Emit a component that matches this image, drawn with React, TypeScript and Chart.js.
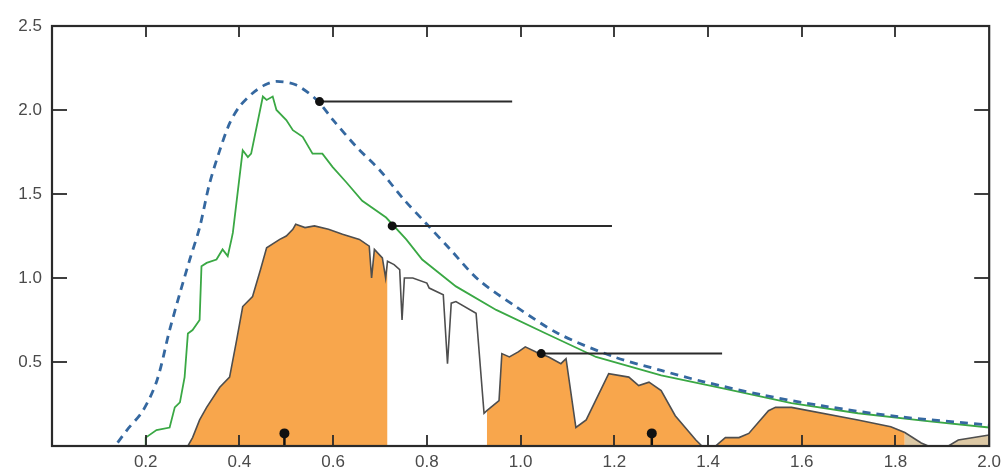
import React, { useEffect, useRef } from "react";
import { Chart, registerables } from "chart.js";

Chart.register(...registerables);

type Pt = [number, number];

// Blackbody reference curve (dashed)
const blackbody: Pt[] = [
  [0.14, 0.02], [0.16, 0.095], [0.194, 0.21], [0.224, 0.39], [0.251, 0.69],
  [0.273, 0.91], [0.294, 1.11], [0.315, 1.3], [0.336, 1.56], [0.358, 1.76],
  [0.379, 1.92], [0.4, 2.02], [0.428, 2.1], [0.455, 2.15], [0.479, 2.17],
  [0.52, 2.15], [0.565, 2.06], [0.6, 1.94], [0.65, 1.78], [0.7, 1.64],
  [0.75, 1.47], [0.8, 1.32], [0.85, 1.17], [0.91, 0.99], [0.99, 0.83],
  [1.08, 0.67], [1.2, 0.53], [1.3, 0.45], [1.387, 0.385], [1.514, 0.305],
  [1.642, 0.24], [1.806, 0.175], [2.0, 0.125],
];

// Irradiance at the top of the atmosphere (green)
const topOfAtmosphere: Pt[] = [
  [0.2, 0.0], [0.2, 0.05], [0.223, 0.095], [0.251, 0.11], [0.262, 0.23],
  [0.273, 0.26], [0.283, 0.41], [0.29, 0.67], [0.3, 0.69], [0.315, 0.75],
  [0.319, 1.07], [0.33, 1.09], [0.351, 1.11], [0.364, 1.17], [0.375, 1.13],
  [0.383, 1.23], [0.386, 1.27], [0.407, 1.76], [0.418, 1.72], [0.425, 1.74],
  [0.45, 2.08], [0.458, 2.06], [0.471, 2.08], [0.479, 2.0], [0.5, 1.94],
  [0.514, 1.88], [0.535, 1.84], [0.556, 1.74], [0.577, 1.74], [0.599, 1.66],
  [0.628, 1.57], [0.662, 1.46], [0.713, 1.36], [0.756, 1.23], [0.79, 1.11],
  [0.862, 0.95], [0.948, 0.81], [1.054, 0.67], [1.161, 0.53], [1.3, 0.42],
  [1.437, 0.34], [1.578, 0.255], [1.72, 0.195], [1.863, 0.15], [2.0, 0.11],
];

// Irradiance at sea level (outlined, partly filled)
const seaLevel: Pt[] = [
  [0.29, 0.0], [0.3, 0.05], [0.315, 0.155], [0.33, 0.23], [0.358, 0.35],
  [0.379, 0.41], [0.394, 0.63], [0.407, 0.83], [0.428, 0.89], [0.445, 1.05],
  [0.458, 1.18], [0.486, 1.23], [0.5, 1.25], [0.514, 1.29], [0.52, 1.32],
  [0.54, 1.3], [0.56, 1.31], [0.59, 1.29], [0.62, 1.26], [0.656, 1.23],
  [0.677, 1.19], [0.682, 1.0], [0.688, 1.17], [0.705, 1.12], [0.712, 1.0],
  [0.716, 1.1], [0.73, 1.08], [0.742, 1.05], [0.747, 0.75], [0.752, 1.0],
  [0.77, 1.0], [0.8, 0.97], [0.805, 0.94], [0.835, 0.9], [0.844, 0.49],
  [0.852, 0.85], [0.862, 0.86], [0.905, 0.79], [0.922, 0.195], [0.928, 0.21],
  [0.954, 0.27], [0.96, 0.55], [0.976, 0.53], [0.995, 0.56], [1.01, 0.59],
  [1.033, 0.56], [1.06, 0.53], [1.086, 0.49], [1.097, 0.52], [1.118, 0.11],
  [1.14, 0.155], [1.188, 0.43], [1.231, 0.41], [1.252, 0.36], [1.274, 0.38],
  [1.3, 0.33], [1.33, 0.18], [1.374, 0.036], [1.387, 0.0], [1.416, 0.0],
  [1.437, 0.05], [1.466, 0.05], [1.487, 0.075], [1.529, 0.21], [1.544, 0.23],
  [1.578, 0.23], [1.72, 0.155], [1.79, 0.115], [1.82, 0.08], [1.855, 0.018],
  [1.87, 0.0], [1.913, 0.0], [1.934, 0.036], [2.0, 0.065],
];

// Wavelength ranges of the sea-level curve that are shaded
const orangeBands: Pt[] = [[0.29, 0.716], [0.928, 1.82]];
const tanBands: Pt[] = [[1.82, 2.0]];

// Pointer lines: [start x, end x, y]
const pointers: [number, number, number][] = [
  [0.571, 0.982, 2.05],
  [0.726, 1.195, 1.31],
  [1.044, 1.43, 0.55],
];

// Small pin markers standing on the axis: [x, head height]
const pins: Pt[] = [[0.496, 0.075], [1.28, 0.075]];

const xTicks = [0.2, 0.4, 0.6, 0.8, 1.0, 1.2, 1.4, 1.6, 1.8, 2.0];
const yTicks = [0.5, 1.0, 1.5, 2.0, 2.5];

const toXY = (pts: Pt[]) => pts.map(([x, y]) => ({ x, y }));
const band = ([a, b]: Pt) => toXY(seaLevel.filter(([x]) => x >= a && x <= b));

const INK = "#2a2a2a";

const framePlugin = {
  id: "frame",
  afterDatasetsDraw(chart: any) {
    const { ctx, chartArea: a, scales } = chart;
    const x = scales.x;
    const y = scales.y;
    ctx.save();
    ctx.strokeStyle = INK;
    ctx.lineWidth = 1.8;
    const seg = (x1: number, y1: number, x2: number, y2: number) => {
      ctx.beginPath();
      ctx.moveTo(x1, y1);
      ctx.lineTo(x2, y2);
      ctx.stroke();
    };
    xTicks.forEach((v) => {
      if (v <= x.min || v >= x.max) return;
      const px = Math.round(x.getPixelForValue(v));
      seg(px, a.bottom, px, a.bottom - 11);
      seg(px, a.top, px, a.top + 11);
    });
    yTicks.forEach((v) => {
      if (v <= y.min || v >= y.max) return;
      const py = Math.round(y.getPixelForValue(v));
      seg(a.left, py, a.left + 15, py);
      seg(a.right, py, a.right - 15, py);
    });
    ctx.lineWidth = 2.2;
    ctx.strokeRect(a.left, a.top, a.right - a.left, a.bottom - a.top);
    ctx.restore();
  },
};

export default function App() {
  const canvasRef = useRef<HTMLCanvasElement | null>(null);

  useEffect(() => {
    if (!canvasRef.current) return;

    const datasets: any[] = [];

    orangeBands.forEach((b) =>
      datasets.push({
        data: band(b),
        showLine: true,
        fill: "origin",
        backgroundColor: "#f8a64c",
        borderWidth: 0,
        pointRadius: 0,
        order: 6,
      })
    );
    tanBands.forEach((b) =>
      datasets.push({
        data: band(b),
        showLine: true,
        fill: "origin",
        backgroundColor: "#dcc8a4",
        borderWidth: 0,
        pointRadius: 0,
        order: 6,
      })
    );

    datasets.push({
      data: toXY(seaLevel),
      showLine: true,
      borderColor: "#4e4e4e",
      borderWidth: 1.6,
      pointRadius: 0,
      order: 5,
    });

    datasets.push({
      data: toXY(topOfAtmosphere),
      showLine: true,
      borderColor: "#3aa844",
      borderWidth: 1.8,
      pointRadius: 0,
      order: 4,
    });

    datasets.push({
      data: toXY(blackbody),
      showLine: true,
      borderColor: "#3568a0",
      borderWidth: 2.8,
      borderDash: [8, 6],
      pointRadius: 0,
      tension: 0.3,
      order: 3,
    });

    pointers.forEach(([x0, x1, yv]) =>
      datasets.push({
        data: [{ x: x0, y: yv }, { x: x1, y: yv }],
        showLine: true,
        borderColor: INK,
        borderWidth: 2,
        pointRadius: [4.5, 0],
        pointBackgroundColor: "#111",
        pointBorderWidth: 0,
        order: 1,
      })
    );

    pins.forEach(([xv, h]) =>
      datasets.push({
        data: [{ x: xv, y: 0 }, { x: xv, y: h }],
        showLine: true,
        borderColor: "#111",
        borderWidth: 2.5,
        pointRadius: [0, 5],
        pointBackgroundColor: "#111",
        pointBorderWidth: 0,
        order: 1,
      })
    );

    const tickFont = { family: "'Liberation Sans', Arial, sans-serif", size: 17 };

    const chart = new Chart(canvasRef.current, {
      type: "scatter",
      data: { datasets },
      plugins: [framePlugin],
      options: {
        animation: false,
        responsive: true,
        maintainAspectRatio: false,
        layout: { padding: { top: 26, right: 16, bottom: 0, left: 0 } },
        plugins: {
          legend: { display: false },
          tooltip: { enabled: false },
        },
        scales: {
          x: {
            type: "linear",
            min: 0,
            max: 2.0,
            grid: { display: false, drawTicks: false },
            border: { display: false },
            afterFit: (s: any) => {
              s.height = 25;
            },
            afterBuildTicks: (s: any) => {
              s.ticks = [0, ...xTicks].map((v) => ({ value: v }));
            },
            ticks: {
              padding: 6,
              color: "#4a4a4a",
              font: tickFont,
              callback: (v: any) => (Number(v) === 0 ? "" : Number(v).toFixed(1)),
            },
          },
          y: {
            type: "linear",
            min: 0,
            max: 2.5,
            grid: { display: false, drawTicks: false },
            border: { display: false },
            afterFit: (s: any) => {
              s.width = 52;
            },
            afterBuildTicks: (s: any) => {
              s.ticks = [0, ...yTicks].map((v) => ({ value: v }));
            },
            ticks: {
              padding: 10,
              color: "#4a4a4a",
              font: tickFont,
              callback: (v: any) => (Number(v) === 0 ? "" : Number(v).toFixed(1)),
            },
          },
        },
      },
    });

    return () => chart.destroy();
  }, []);

  return (
    <div style={{ position: "fixed", left: 0, top: 0, width: 1007, height: 471, background: "#fff" }}>
      <canvas ref={canvasRef} />
    </div>
  );
}
